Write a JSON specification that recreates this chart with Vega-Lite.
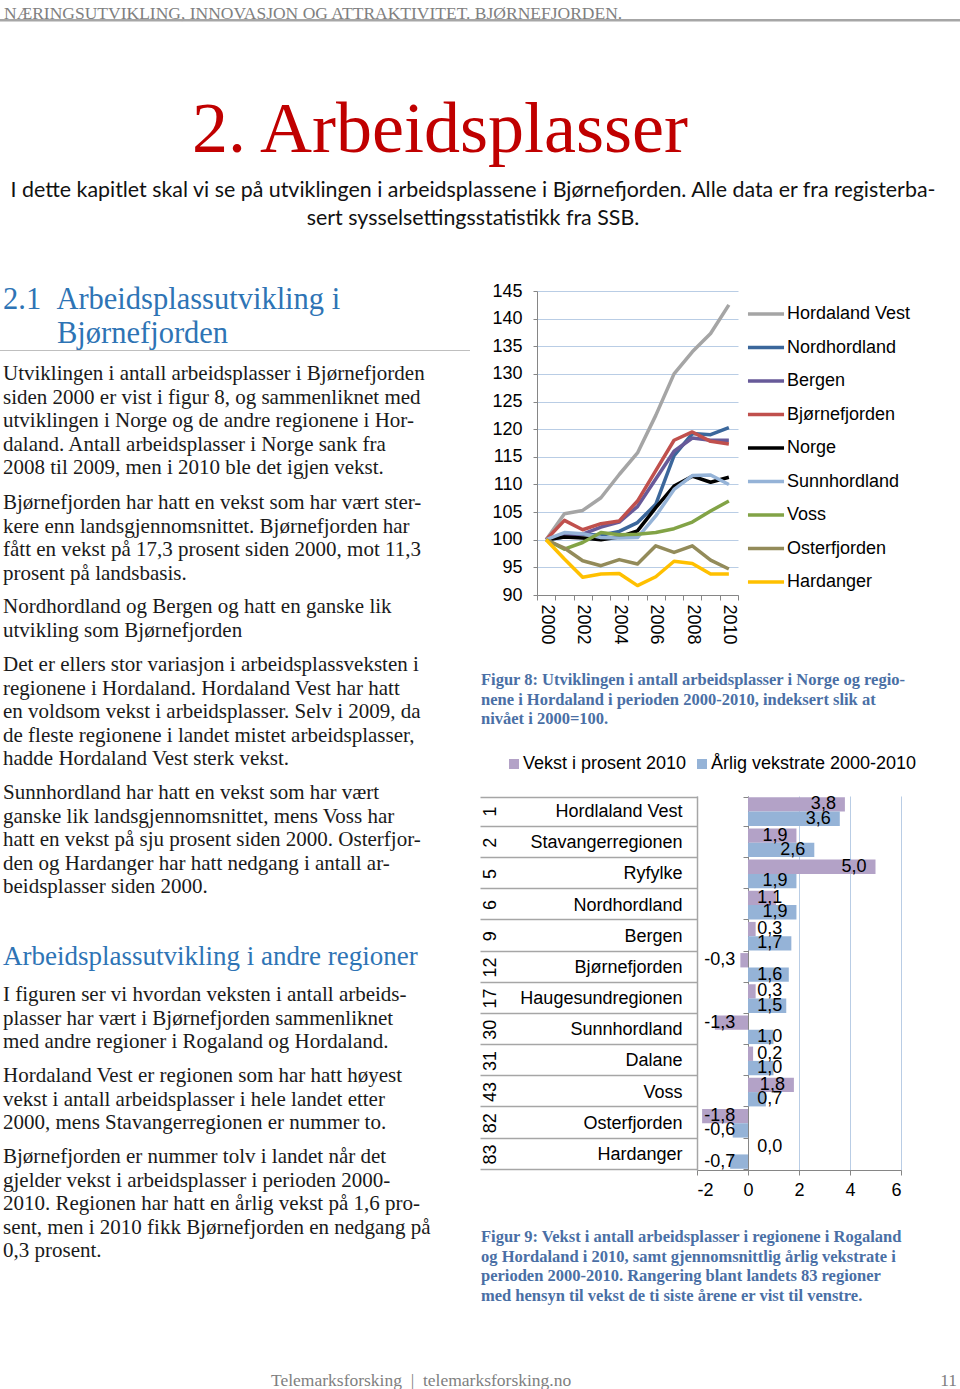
{
  "$schema": "https://vega.github.io/schema/vega-lite/v6.json",
  "padding": 0,
  "background": "white",
  "bounds": "flush",
  "spacing": 0,
  "resolve": {"scale": {"color": "independent"}, "legend": {"color": "independent"}},
  "config": {
    "view": {"stroke": null},
    "font": "Liberation Sans",
    "locale": {"number": {"decimal": ",", "thousands": " ", "grouping": [3], "currency": ["", " kr"], "minus": "-"}},
    "title": {"fontWeight": "normal", "orient": "bottom", "anchor": "start", "offset": 0, "frame": "group", "font": "Liberation Serif", "fontSize": 21, "lineHeight": 23.5, "color": "#1a1a1a", "dx": 3},
    "axis": {"labelFont": "Liberation Sans", "labelColor": "#000", "labelFontSize": 18},
    "legend": {"labelFont": "Liberation Sans", "labelColor": "#000", "labelFontSize": 18}
  },
  "datasets": {
    "lines": [
      {"region": "Hordaland Vest", "year": 2000, "index": 100}, {"region": "Hordaland Vest", "year": 2001, "index": 104.7}, {"region": "Hordaland Vest", "year": 2002, "index": 105.3}, {"region": "Hordaland Vest", "year": 2003, "index": 107.6}, {"region": "Hordaland Vest", "year": 2004, "index": 111.8}, {"region": "Hordaland Vest", "year": 2005, "index": 115.7}, {"region": "Hordaland Vest", "year": 2006, "index": 122.5}, {"region": "Hordaland Vest", "year": 2007, "index": 130.0}, {"region": "Hordaland Vest", "year": 2008, "index": 134.0}, {"region": "Hordaland Vest", "year": 2009, "index": 137.3}, {"region": "Hordaland Vest", "year": 2010, "index": 142.5},
      {"region": "Nordhordland", "year": 2000, "index": 100}, {"region": "Nordhordland", "year": 2001, "index": 100.5}, {"region": "Nordhordland", "year": 2002, "index": 101.0}, {"region": "Nordhordland", "year": 2003, "index": 100.8}, {"region": "Nordhordland", "year": 2004, "index": 101.5}, {"region": "Nordhordland", "year": 2005, "index": 103.1}, {"region": "Nordhordland", "year": 2006, "index": 106.4}, {"region": "Nordhordland", "year": 2007, "index": 115.2}, {"region": "Nordhordland", "year": 2008, "index": 119.2}, {"region": "Nordhordland", "year": 2009, "index": 119.0}, {"region": "Nordhordland", "year": 2010, "index": 120.3},
      {"region": "Bergen", "year": 2000, "index": 100}, {"region": "Bergen", "year": 2001, "index": 100.8}, {"region": "Bergen", "year": 2002, "index": 101.0}, {"region": "Bergen", "year": 2003, "index": 102.3}, {"region": "Bergen", "year": 2004, "index": 103.2}, {"region": "Bergen", "year": 2005, "index": 106.0}, {"region": "Bergen", "year": 2006, "index": 111.0}, {"region": "Bergen", "year": 2007, "index": 116.0}, {"region": "Bergen", "year": 2008, "index": 118.4}, {"region": "Bergen", "year": 2009, "index": 118.0}, {"region": "Bergen", "year": 2010, "index": 118.0},
      {"region": "Bjørnefjorden", "year": 2000, "index": 100}, {"region": "Bjørnefjorden", "year": 2001, "index": 103.5}, {"region": "Bjørnefjorden", "year": 2002, "index": 101.8}, {"region": "Bjørnefjorden", "year": 2003, "index": 102.9}, {"region": "Bjørnefjorden", "year": 2004, "index": 103.4}, {"region": "Bjørnefjorden", "year": 2005, "index": 107.0}, {"region": "Bjørnefjorden", "year": 2006, "index": 112.5}, {"region": "Bjørnefjorden", "year": 2007, "index": 118.0}, {"region": "Bjørnefjorden", "year": 2008, "index": 119.5}, {"region": "Bjørnefjorden", "year": 2009, "index": 117.8}, {"region": "Bjørnefjorden", "year": 2010, "index": 117.3},
      {"region": "Norge", "year": 2000, "index": 100}, {"region": "Norge", "year": 2001, "index": 100.5}, {"region": "Norge", "year": 2002, "index": 100.3}, {"region": "Norge", "year": 2003, "index": 100.0}, {"region": "Norge", "year": 2004, "index": 100.5}, {"region": "Norge", "year": 2005, "index": 101.6}, {"region": "Norge", "year": 2006, "index": 105.8}, {"region": "Norge", "year": 2007, "index": 109.7}, {"region": "Norge", "year": 2008, "index": 111.5}, {"region": "Norge", "year": 2009, "index": 110.4}, {"region": "Norge", "year": 2010, "index": 111.3},
      {"region": "Sunnhordland", "year": 2000, "index": 100}, {"region": "Sunnhordland", "year": 2001, "index": 101.3}, {"region": "Sunnhordland", "year": 2002, "index": 101.1}, {"region": "Sunnhordland", "year": 2003, "index": 100.4}, {"region": "Sunnhordland", "year": 2004, "index": 100.3}, {"region": "Sunnhordland", "year": 2005, "index": 100.4}, {"region": "Sunnhordland", "year": 2006, "index": 104.3}, {"region": "Sunnhordland", "year": 2007, "index": 109.1}, {"region": "Sunnhordland", "year": 2008, "index": 111.6}, {"region": "Sunnhordland", "year": 2009, "index": 111.7}, {"region": "Sunnhordland", "year": 2010, "index": 110.0},
      {"region": "Voss", "year": 2000, "index": 100}, {"region": "Voss", "year": 2001, "index": 98.3}, {"region": "Voss", "year": 2002, "index": 99.5}, {"region": "Voss", "year": 2003, "index": 101.3}, {"region": "Voss", "year": 2004, "index": 100.9}, {"region": "Voss", "year": 2005, "index": 101.0}, {"region": "Voss", "year": 2006, "index": 101.3}, {"region": "Voss", "year": 2007, "index": 102.0}, {"region": "Voss", "year": 2008, "index": 103.2}, {"region": "Voss", "year": 2009, "index": 105.2}, {"region": "Voss", "year": 2010, "index": 107.0},
      {"region": "Osterfjorden", "year": 2000, "index": 100}, {"region": "Osterfjorden", "year": 2001, "index": 98.5}, {"region": "Osterfjorden", "year": 2002, "index": 96.2}, {"region": "Osterfjorden", "year": 2003, "index": 95.3}, {"region": "Osterfjorden", "year": 2004, "index": 96.4}, {"region": "Osterfjorden", "year": 2005, "index": 95.6}, {"region": "Osterfjorden", "year": 2006, "index": 98.9}, {"region": "Osterfjorden", "year": 2007, "index": 97.7}, {"region": "Osterfjorden", "year": 2008, "index": 98.9}, {"region": "Osterfjorden", "year": 2009, "index": 96.3}, {"region": "Osterfjorden", "year": 2010, "index": 94.7},
      {"region": "Hardanger", "year": 2000, "index": 100}, {"region": "Hardanger", "year": 2001, "index": 96.5}, {"region": "Hardanger", "year": 2002, "index": 93.2}, {"region": "Hardanger", "year": 2003, "index": 93.8}, {"region": "Hardanger", "year": 2004, "index": 93.9}, {"region": "Hardanger", "year": 2005, "index": 91.7}, {"region": "Hardanger", "year": 2006, "index": 93.3}, {"region": "Hardanger", "year": 2007, "index": 96.1}, {"region": "Hardanger", "year": 2008, "index": 95.7}, {"region": "Hardanger", "year": 2009, "index": 93.8}, {"region": "Hardanger", "year": 2010, "index": 93.8}
    ],
    "bars": [
      {"region": "Hordlaland Vest", "rank": 1, "series": "Vekst i prosent 2010", "value": 3.8}, {"region": "Hordlaland Vest", "rank": 1, "series": "Årlig vekstrate 2000-2010", "value": 3.6},
      {"region": "Stavangerregionen", "rank": 2, "series": "Vekst i prosent 2010", "value": 1.9}, {"region": "Stavangerregionen", "rank": 2, "series": "Årlig vekstrate 2000-2010", "value": 2.6},
      {"region": "Ryfylke", "rank": 5, "series": "Vekst i prosent 2010", "value": 5.0}, {"region": "Ryfylke", "rank": 5, "series": "Årlig vekstrate 2000-2010", "value": 1.9},
      {"region": "Nordhordland", "rank": 6, "series": "Vekst i prosent 2010", "value": 1.1}, {"region": "Nordhordland", "rank": 6, "series": "Årlig vekstrate 2000-2010", "value": 1.9},
      {"region": "Bergen", "rank": 9, "series": "Vekst i prosent 2010", "value": 0.3}, {"region": "Bergen", "rank": 9, "series": "Årlig vekstrate 2000-2010", "value": 1.7},
      {"region": "Bjørnefjorden", "rank": 12, "series": "Vekst i prosent 2010", "value": -0.3}, {"region": "Bjørnefjorden", "rank": 12, "series": "Årlig vekstrate 2000-2010", "value": 1.6},
      {"region": "Haugesundregionen", "rank": 17, "series": "Vekst i prosent 2010", "value": 0.3}, {"region": "Haugesundregionen", "rank": 17, "series": "Årlig vekstrate 2000-2010", "value": 1.5},
      {"region": "Sunnhordland", "rank": 30, "series": "Vekst i prosent 2010", "value": -1.3}, {"region": "Sunnhordland", "rank": 30, "series": "Årlig vekstrate 2000-2010", "value": 1.0},
      {"region": "Dalane", "rank": 31, "series": "Vekst i prosent 2010", "value": 0.2}, {"region": "Dalane", "rank": 31, "series": "Årlig vekstrate 2000-2010", "value": 1.0},
      {"region": "Voss", "rank": 43, "series": "Vekst i prosent 2010", "value": 1.8}, {"region": "Voss", "rank": 43, "series": "Årlig vekstrate 2000-2010", "value": 0.7},
      {"region": "Osterfjorden", "rank": 82, "series": "Vekst i prosent 2010", "value": -1.8}, {"region": "Osterfjorden", "rank": 82, "series": "Årlig vekstrate 2000-2010", "value": -0.6},
      {"region": "Hardanger", "rank": 83, "series": "Vekst i prosent 2010", "value": 0.0}, {"region": "Hardanger", "rank": 83, "series": "Årlig vekstrate 2000-2010", "value": -0.7}
    ]
  },
  "vconcat": [
    {"width": 960, "height": 1, "data": {"values": []}, "mark": "point",
     "title": {"text": "NÆRINGSUTVIKLING, INNOVASJON OG ATTRAKTIVITET. BJØRNEFJORDEN.", "fontSize": 17.5, "color": "#7f7f7f", "dx": 4}},
    {"width": 960, "height": 18, "data": {"values": []}, "mark": "point"},
    {"width": 960, "height": 2.5, "data": {"values": []}, "mark": "point", "view": {"fill": "#a6a6a6", "stroke": null}},
    {"width": 960, "height": 68.5, "data": {"values": []}, "mark": "point",
     "title": {"text": "2. Arbeidsplasser", "fontSize": 72, "color": "#c00000", "anchor": "middle", "dx": -40}},
    {"width": 960, "height": 85, "data": {"values": []}, "mark": "point",
     "title": {"text": ["I dette kapitlet skal vi se på utviklingen i arbeidsplassene i Bjørnefjorden. Alle data er fra registerba-", "sert sysselsettingsstatistikk fra SSB."], "font": "Lato", "fontSize": 21.4, "lineHeight": 28, "color": "#111", "anchor": "middle", "dx": -7}},
    {"width": 960, "height": 105, "data": {"values": []}, "mark": "point",
     "title": {"text": "2.1\u00a0\u00a0Arbeidsplassutvikling i", "fontSize": 30.5, "color": "#2e74b5"}},
    {"width": 960, "height": 10, "data": {"values": []}, "mark": "point"},
    {
      "bounds": "flush",
      "spacing": 0,
      "resolve": {"scale": {"color": "independent"}, "legend": {"color": "independent"}},
      "hconcat": [
        {"width": 537, "height": 304, "data": {"values": []}, "mark": "point"},
        {
          "width": 201,
          "height": 304,
          "data": {"name": "lines"},
          "mark": {"type": "line", "strokeWidth": 3.5, "strokeJoin": "round"},
          "encoding": {
            "x": {"field": "year", "type": "ordinal", "bandPosition": 0.5,
                  "scale": {"type": "band", "paddingInner": 0, "paddingOuter": 0},
                  "axis": {"title": null, "labelAngle": 90, "labelExpr": "datum.value % 2 == 0 ? datum.label : ''", "tickBand": "extent", "tickSize": 5, "tickColor": "#868686", "domainColor": "#868686", "labelPadding": 4, "grid": false}},
            "y": {"field": "index", "type": "quantitative",
                  "scale": {"domain": [90, 145], "nice": false, "zero": false},
                  "axis": {"title": null, "values": [90, 95, 100, 105, 110, 115, 120, 125, 130, 135, 140, 145], "tickSize": 4, "tickColor": "#868686", "domainColor": "#868686", "labelPadding": 11, "gridColor": "#b9cde5", "gridWidth": 1}},
            "color": {"field": "region", "type": "nominal",
                      "scale": {"domain": ["Hordaland Vest", "Nordhordland", "Bergen", "Bjørnefjorden", "Norge", "Sunnhordland", "Voss", "Osterfjorden", "Hardanger"],
                                "range": ["#a5a5a5", "#3b679b", "#675a99", "#c0504d", "#000000", "#95b3d7", "#82a346", "#938b5a", "#ffc000"]},
                      "legend": {"orient": "none", "direction": "vertical", "legendX": 209, "legendY": 14, "title": null, "symbolType": "stroke", "symbolStrokeWidth": 3.5, "symbolSize": 1300, "rowPadding": 15.5, "clipHeight": 18, "labelOffset": 1, "padding": 0, "labelLimit": 0}}
          }
        }
      ]
    },
    {"width": 960, "height": 23.5, "data": {"values": []}, "mark": "point",
     "title": {"text": "Bjørnefjorden", "fontSize": 30.5, "color": "#2e74b5", "dx": 57}},
    {"width": 960, "height": 34.5, "data": {"values": []}, "mark": "point"},
    {"width": 470, "height": 1, "data": {"values": []}, "mark": "point", "view": {"fill": "#bfbfbf", "stroke": null}},
    {"width": 960, "height": 8, "data": {"values": []}, "mark": "point",
     "title": {"text": ["Utviklingen i antall arbeidsplasser i Bjørnefjorden", "siden 2000 er vist i figur 8, og sammenliknet med", "utviklingen i Norge og de andre regionene i Hor-", "daland. Antall arbeidsplasser i Norge sank fra", "2008 til 2009, men i 2010 ble det igjen vekst."]}},
    {"width": 960, "height": 129, "data": {"values": []}, "mark": "point",
     "title": {"text": ["Bjørnefjorden har hatt en vekst som har vært ster-", "kere enn landsgjennomsnittet. Bjørnefjorden har", "fått en vekst på 17,3 prosent siden 2000, mot 11,3", "prosent på landsbasis."]}},
    {"width": 960, "height": 104, "data": {"values": []}, "mark": "point",
     "title": {"text": ["Nordhordland og Bergen og hatt en ganske lik", "utvikling som Bjørnefjorden"]}},
    {"width": 960, "height": 58, "data": {"values": []}, "mark": "point",
     "title": {"text": ["Det er ellers stor variasjon i arbeidsplassveksten i", "regionene i Hordaland. Hordaland Vest har hatt", "en voldsom vekst i arbeidsplasser. Selv i 2009, da", "de fleste regionene i landet mistet arbeidsplasser,", "hadde Hordaland Vest sterk vekst."]}},
    {"width": 960, "height": 18, "data": {"values": []}, "mark": "point",
     "title": {"text": ["Figur 8: Utviklingen i antall arbeidsplasser i Norge og regio-", "nene i Hordaland i perioden 2000-2010, indeksert slik at", "nivået i 2000=100."], "fontSize": 16.5, "lineHeight": 19.5, "fontWeight": "bold", "color": "#4a6fa5", "dx": 481}},
    {"width": 960, "height": 110, "data": {"values": []}, "mark": "point",
     "title": {"text": ["Sunnhordland har hatt en vekst som har vært", "ganske lik landsgjennomsnittet, mens Voss har", "hatt en vekst på sju prosent siden 2000. Osterfjor-", "den og Hardanger har hatt nedgang i antall ar-", "beidsplasser siden 2000."]}},
    {"width": 960, "height": 18, "data": {"values": []}, "mark": "point"},
    {
      "bounds": "flush",
      "spacing": 0,
      "resolve": {"scale": {"color": "independent"}, "legend": {"color": "independent"}},
      "hconcat": [
        {"width": 697, "height": 374, "data": {"values": []}, "mark": "point"},
        {
          "width": 204,
          "height": 374,
          "data": {"name": "bars"},
          "transform": [{"calculate": "datum.value < 0 ? -0.15 : max(datum.value, 1.7)", "as": "labelpos"}],
          "layer": [
            {
              "mark": {"type": "bar"},
              "encoding": {
                "x": {"field": "value", "type": "quantitative",
                      "scale": {"domain": [-2, 6], "nice": false},
                      "axis": {"title": null, "values": [-2, 0, 2, 4, 6], "format": "d", "grid": true, "gridColor": "#b9cde5", "tickSize": 5, "tickColor": "#868686", "domainColor": "#868686", "labelPadding": 6}},
                "y": {"field": "region", "type": "nominal", "sort": {"field": "rank", "op": "min", "order": "ascending"},
                      "scale": {"type": "band", "paddingInner": 0.08, "paddingOuter": 0.04},
                      "axis": {"title": null, "orient": "left", "domain": true, "domainColor": "#a6a6a6", "domainWidth": 1.5, "ticks": true, "tickBand": "extent", "tickSize": 217, "tickColor": "#a6a6a6", "tickWidth": 1.5, "labelPadding": -202, "labelLimit": 0, "grid": false}},
                "yOffset": {"field": "series", "type": "nominal", "sort": ["Vekst i prosent 2010", "Årlig vekstrate 2000-2010"], "scale": {"paddingInner": 0, "paddingOuter": 0}},
                "color": {"field": "series", "type": "nominal",
                          "scale": {"domain": ["Vekst i prosent 2010", "Årlig vekstrate 2000-2010"], "range": ["#b3a2c7", "#95b3d7"]},
                          "legend": {"orient": "none", "legendX": -192, "legendY": -41, "direction": "horizontal", "title": null, "symbolType": "square", "symbolSize": 100, "symbolStrokeWidth": 0, "labelLimit": 0, "columnPadding": 6, "labelOffset": 0, "padding": 0}}
              }
            },
            {
              "mark": {"type": "text", "align": "right", "dx": -9, "fontSize": 18, "baseline": "middle", "color": "#000"},
              "encoding": {
                "x": {"field": "labelpos", "type": "quantitative"},
                "y": {"field": "rank", "type": "ordinal",
                      "scale": {"type": "band", "paddingInner": 0.08, "paddingOuter": 0.04},
                      "axis": {"title": null, "orient": "left", "domain": false, "ticks": false, "grid": false, "labelAngle": -90, "labelAlign": "center", "labelBaseline": "alphabetic", "labelPadding": 202}},
                "yOffset": {"field": "series", "type": "nominal", "sort": ["Vekst i prosent 2010", "Årlig vekstrate 2000-2010"]},
                "text": {"field": "value", "type": "quantitative", "format": ".1f"}
              }
            },
            {
              "mark": {"type": "text", "text": ""},
              "encoding": {
                "y": {"field": "region", "type": "nominal", "sort": {"field": "rank", "op": "min", "order": "ascending"},
                      "scale": {"type": "band", "paddingInner": 0.08, "paddingOuter": 0.04},
                      "axis": {"title": null, "orient": "left", "offset": -51, "labels": false, "domain": true, "domainColor": "#868686", "ticks": true, "tickBand": "extent", "tickSize": 5, "tickColor": "#868686", "grid": false}}
              }
            }
          ],
          "resolve": {"scale": {"y": "independent"}, "axis": {"y": "independent"}}
        }
      ]
    },
    {"width": 960, "height": 144, "data": {"values": []}, "mark": "point",
     "title": {"text": "Arbeidsplassutvikling i andre regioner", "fontSize": 27, "color": "#2e74b5"}},
    {"width": 960, "height": 40, "data": {"values": []}, "mark": "point",
     "title": {"text": ["I figuren ser vi hvordan veksten i antall arbeids-", "plasser har vært i Bjørnefjorden sammenliknet", "med andre regioner i Rogaland og Hordaland."]}},
    {"width": 960, "height": 81, "data": {"values": []}, "mark": "point",
     "title": {"text": ["Hordaland Vest er regionen som har hatt høyest", "vekst i antall arbeidsplasser i hele landet etter", "2000, mens Stavangerregionen er nummer to."]}},
    {"width": 960, "height": 81, "data": {"values": []}, "mark": "point",
     "title": {"text": ["Bjørnefjorden er nummer tolv i landet når det", "gjelder vekst i arbeidsplasser i perioden 2000-", "2010. Regionen har hatt en årlig vekst på 1,6 pro-", "sent, men i 2010 fikk Bjørnefjorden en nedgang på", "0,3 prosent."]}},
    {"width": 960, "height": 83, "data": {"values": []}, "mark": "point",
     "title": {"text": ["Figur 9: Vekst i antall arbeidsplasser i regionene i Rogaland", "og Hordaland i 2010, samt gjennomsnittlig årlig vekstrate i", "perioden 2000-2010. Rangering blant landets 83 regioner", "med hensyn til vekst de ti siste årene er vist til venstre."], "fontSize": 16.5, "lineHeight": 19.6, "fontWeight": "bold", "color": "#4a6fa5", "dx": 481}},
    {
      "bounds": "flush",
      "spacing": 0,
      "hconcat": [
        {"width": 900, "height": 143, "data": {"values": []}, "mark": "point",
         "title": {"text": "Telemarksforsking\u00a0\u00a0|\u00a0\u00a0telemarksforsking.no", "fontSize": 17.5, "color": "#808080", "dx": 271}},
        {"width": 60, "height": 143, "data": {"values": []}, "mark": "point",
         "title": {"text": "11", "fontSize": 17.5, "color": "#808080", "anchor": "end", "dx": -3}}
      ]
    }
  ]
}
